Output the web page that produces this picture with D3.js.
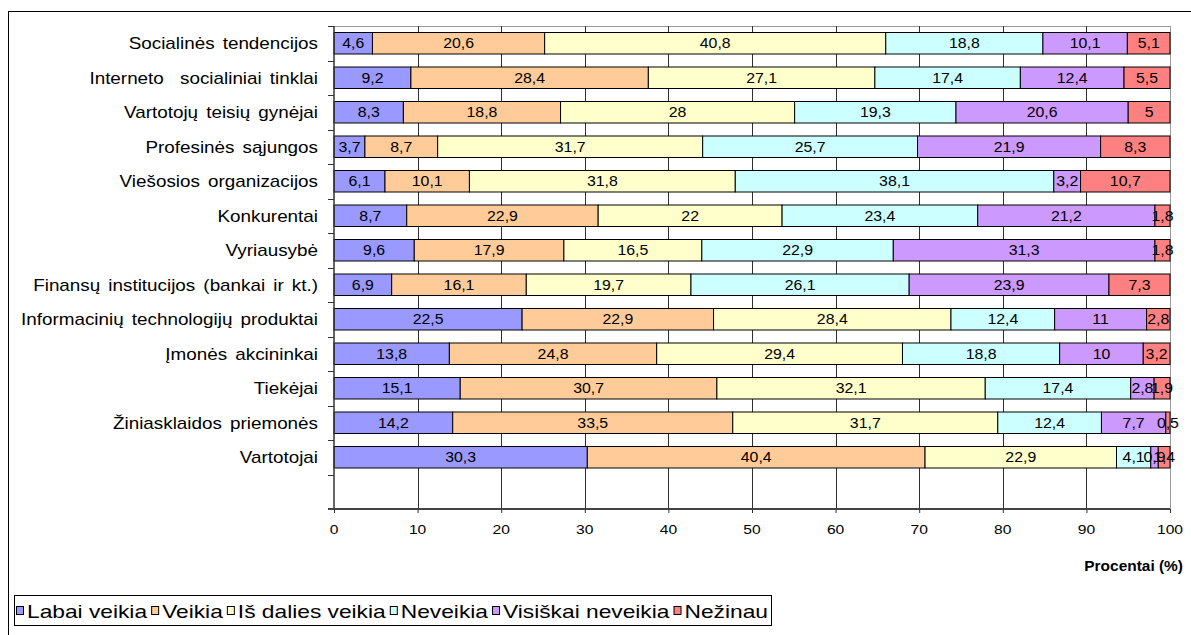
<!DOCTYPE html>
<html>
<head>
<meta charset="utf-8">
<script src="https://cdn.jsdelivr.net/npm/d3@7"></script>
<style>
  html, body { margin: 0; padding: 0; background: #fff; }
  svg { display: block; font-family: "Liberation Sans", Arial, sans-serif; }
</style>
</head>
<body>
<svg id="chart" width="1191" height="635"></svg>
<script>
// Categories, top to bottom
const categories = [
  "Socialinės tendencijos",
  "Interneto  socialiniai tinklai",
  "Vartotojų teisių gynėjai",
  "Profesinės sąjungos",
  "Viešosios organizacijos",
  "Konkurentai",
  "Vyriausybė",
  "Finansų institucijos (bankai ir kt.)",
  "Informacinių technologijų produktai",
  "Įmonės akcininkai",
  "Tiekėjai",
  "Žiniasklaidos priemonės",
  "Vartotojai"
];

const seriesNames = ["Labai veikia", "Veikia", "Iš dalies veikia", "Neveikia", "Visiškai neveikia", "Nežinau"];
const seriesColors = ["#9999FF", "#FFCC99", "#FFFFCC", "#CCFFFF", "#CC99FF", "#FF8080"];

const labaiVeikia     = [4.6, 9.2, 8.3, 3.7, 6.1, 8.7, 9.6, 6.9, 22.5, 13.8, 15.1, 14.2, 30.3];
const veikia          = [20.6, 28.4, 18.8, 8.7, 10.1, 22.9, 17.9, 16.1, 22.9, 24.8, 30.7, 33.5, 40.4];
const isDaliesVeikia  = [40.8, 27.1, 28, 31.7, 31.8, 22, 16.5, 19.7, 28.4, 29.4, 32.1, 31.7, 22.9];
const neveikia        = [18.8, 17.4, 19.3, 25.7, 38.1, 23.4, 22.9, 26.1, 12.4, 18.8, 17.4, 12.4, 4.1];
const visiskaiNeveikia= [10.1, 12.4, 20.6, 21.9, 3.2, 21.2, 31.3, 23.9, 11, 10, 2.8, 7.7, 0.9];
const nezinau         = [5.1, 5.5, 5, 8.3, 10.7, 1.8, 1.8, 7.3, 2.8, 3.2, 1.9, 0.5, 1.4];

const xTicks = [0, 10, 20, 30, 40, 50, 60, 70, 80, 90, 100];
const xTitle = "Procentai (%)";

const seriesValues = [labaiVeikia, veikia, isDaliesVeikia, neveikia, visiskaiNeveikia, nezinau];
const rows = categories.map((c, i) => {
  const r = { category: c };
  seriesNames.forEach((s, k) => { r[s] = seriesValues[k][i]; });
  return r;
});

const SX = 1.15; // horizontal text stretch
const svg = d3.select("#chart");

// Outer frame
svg.append("rect")
  .attr("x", 8.5).attr("y", 11.5)
  .attr("width", 1300).attr("height", 700)
  .attr("fill", "#fff").attr("stroke", "#000").attr("stroke-width", 1);

const plot = { left: 334, right: 1170, top: 26, bottom: 509 };

const x = d3.scaleLinear().domain([0, 100]).range([plot.left, plot.right]);
// one trailing empty band below the last category
const bandDomain = d3.range(categories.length + 1);
const y = d3.scaleBand().domain(bandDomain).range([plot.top, plot.bottom])
  .paddingInner(0.377).paddingOuter(0.1885);

function stretchedText(g, tx, ty, str, size, anchor, weight, sx) {
  return g.append("text")
    .attr("transform", `translate(${tx},${ty}) scale(${sx || SX},1)`)
    .attr("text-anchor", anchor)
    .attr("dominant-baseline", "central")
    .attr("font-size", size)
    .attr("font-weight", weight || "normal")
    .attr("fill", "#000")
    .text(str);
}

// Plot frame (top and right, light gray)
svg.append("line").attr("x1", plot.left).attr("x2", plot.right + 0.5)
  .attr("y1", plot.top + 0.5).attr("y2", plot.top + 0.5)
  .attr("stroke", "#9a9a9a").attr("stroke-width", 1);
svg.append("line").attr("x1", plot.right + 0.5).attr("x2", plot.right + 0.5)
  .attr("y1", plot.top).attr("y2", plot.bottom)
  .attr("stroke", "#9a9a9a").attr("stroke-width", 1);

// Vertical gridlines
svg.append("g").selectAll("line")
  .data(xTicks.filter(t => t > 0 && t < 100))
  .join("line")
  .attr("x1", d => Math.round(x(d)) + 0.5).attr("x2", d => Math.round(x(d)) + 0.5)
  .attr("y1", plot.top).attr("y2", plot.bottom)
  .attr("stroke", "#303030").attr("stroke-width", 1);

// Stacked bars
const stack = d3.stack().keys(seriesNames);
const stacked = stack(rows);

const barsG = svg.append("g");
stacked.forEach((layer, k) => {
  barsG.append("g").selectAll("rect")
    .data(layer)
    .join("rect")
    .attr("x", d => x(d[0]))
    .attr("y", (d, i) => y(i))
    .attr("width", d => x(d[1]) - x(d[0]))
    .attr("height", y.bandwidth())
    .attr("fill", seriesColors[k])
    .attr("stroke", "#000")
    .attr("stroke-width", 1);
});

// Value labels
const labelsG = svg.append("g");
stacked.forEach((layer, k) => {
  layer.forEach((d, i) => {
    const str = String(seriesValues[k][i]).replace(".", ",");
    stretchedText(labelsG, (x(d[0]) + x(d[1])) / 2, y(i) + y.bandwidth() / 2 + 0.5, str, 13.8, "middle");
  });
});

// Y axis line and boundary ticks
const yAxisG = svg.append("g");
yAxisG.append("line").attr("x1", plot.left).attr("x2", plot.left)
  .attr("y1", plot.top).attr("y2", plot.bottom)
  .attr("stroke", "#333").attr("stroke-width", 1.5);
const boundaries = d3.range(bandDomain.length + 1).map(i => plot.top + i * y.step());
yAxisG.selectAll("line.tick").data(boundaries).join("line")
  .attr("class", "tick")
  .attr("x1", plot.left - 6).attr("x2", plot.left)
  .attr("y1", d => Math.round(d) + 0.5).attr("y2", d => Math.round(d) + 0.5)
  .attr("stroke", "#333").attr("stroke-width", 1);

// Category labels
const catG = svg.append("g");
categories.forEach((c, i) => {
  stretchedText(catG, 318, y(i) + y.bandwidth() / 2 + 0.5, c, 16.4, "end")
    .attr("word-spacing", 2.5)
    .style("white-space", "pre");
});

// X axis
const xAxis = d3.axisBottom(x).tickValues(xTicks).tickSize(4).tickFormat(d3.format("d"));
const xAxisG = svg.append("g").attr("transform", `translate(0,${plot.bottom})`).call(xAxis);
xAxisG.select(".domain").attr("stroke", "#444").attr("stroke-width", 2)
  .attr("d", `M${plot.left - 6},0H${plot.right}`);
xAxisG.selectAll(".tick line").attr("stroke", "#333");
xAxisG.selectAll(".tick text").remove();
xTicks.forEach(t => stretchedText(svg, x(t), 529, String(t), 13.6, "middle"));

// X axis title
stretchedText(svg, 1183, 566, xTitle, 13.8, "end", "bold", 1.12);

// Legend: items laid out left to right, text stretched to fill the box
const legendG = svg.append("g");
const legendBox = { x: 14.5, y: 595.5, w: 757, h: 30 };
legendG.append("rect")
  .attr("x", legendBox.x).attr("y", legendBox.y).attr("width", legendBox.w).attr("height", legendBox.h)
  .attr("fill", "#fff").attr("stroke", "#000").attr("stroke-width", 1);
const legendFont = 18.5;
const swatch = 8, swGap = 3, itemGap = 4;
const probe = legendG.append("text").attr("font-size", legendFont).attr("visibility", "hidden");
const natural = seriesNames.map(s => { probe.text(s); return probe.node().getComputedTextLength(); });
probe.remove();
const available = (768 - 16) - seriesNames.length * (swatch + swGap) - (seriesNames.length - 1) * itemGap;
const legendSX = available / d3.sum(natural);
let lx = 16;
seriesNames.forEach((s, k) => {
  legendG.append("rect")
    .attr("x", lx + 0.5).attr("y", 606.5).attr("width", swatch - 1).attr("height", 8)
    .attr("fill", seriesColors[k]).attr("stroke", "#000").attr("stroke-width", 1);
  stretchedText(legendG, lx + swatch + swGap, 611, s, legendFont, "start", "normal", legendSX);
  lx += swatch + swGap + natural[k] * legendSX + itemGap;
});
</script>
</body>
</html>
